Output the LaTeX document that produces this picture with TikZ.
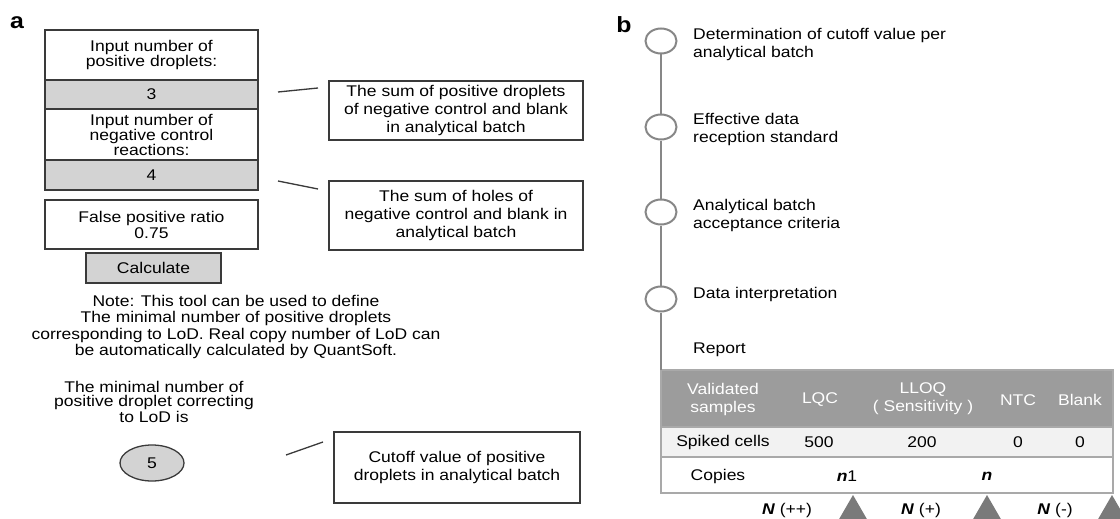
\documentclass[tikz,border=0pt]{standalone}
\usepackage{fontspec}
\setmainfont{Liberation Sans}[FakeStretch=1.13]
\usetikzlibrary{positioning, shapes.geometric}
\definecolor{boxgray}{HTML}{D3D3D3}
\definecolor{edgedark}{HTML}{3A3A3A}
\definecolor{linegray}{HTML}{878787}
\definecolor{headgray}{HTML}{9C9C9C}
\definecolor{rowgray}{HTML}{F2F2F2}
\definecolor{tablegray}{HTML}{A9A9A9}
\definecolor{trigray}{HTML}{7A7A7A}

\begin{document}
\begin{tikzpicture}[x=1pt, y=-1pt, font=\fontsize{15.5}{16}\selectfont,
  inbox/.style={draw=edgedark, line width=1.3pt, minimum width=213pt, inner sep=0pt, outer sep=0pt, align=center},
  valbox/.style={inbox, fill=boxgray},
  notebox/.style={draw=edgedark, line width=1.3pt, inner sep=0pt, align=center, font=\fontsize{15.5}{18}\selectfont},
  tick/.style={edgedark, line width=1.3pt},
  ring/.style={ellipse, draw=linegray, line width=2pt, fill=white, minimum width=31pt, minimum height=25pt, inner sep=0pt},
  ringline/.style={linegray, line width=2pt},
  steptext/.style={anchor=west, inner sep=0pt, align=left, font=\fontsize{15.5}{18}\selectfont},
  trow/.style={draw=tablegray, line width=2pt, minimum width=452pt, inner sep=0pt, outer sep=0pt},
  marker/.style={regular polygon, regular polygon sides=3, minimum size=32.4pt, inner sep=0pt, fill=trigray}]
\useasboundingbox (0,0) rectangle (1120,519);

% panel a
\node[font=\fontsize{22}{22}\selectfont\bfseries] (labA) at (17,23) {a};
\node[inbox, minimum height=50pt, font=\fontsize{15.5}{15.5}\selectfont] (inA) at (151.5,55) {Input number of\\positive droplets:};
\node[valbox, minimum height=29pt, below=0pt of inA] (val3) {3};
\node[inbox, minimum height=51pt, below=0pt of val3, font=\fontsize{15.5}{15}\selectfont] (inB) {Input number of\\negative control\\reactions:};
\node[valbox, minimum height=30pt, below=0pt of inB] (val4) {4};
\node[inbox, minimum height=49pt, below=10pt of val4, font=\fontsize{15.5}{16}\selectfont] (ratio) {False positive ratio\\0.75};
\node[valbox, minimum width=135pt, minimum height=30pt] (calc) at (153.5,268) {Calculate};
\node[align=center, inner sep=0pt, font=\fontsize{15.5}{16.5}\selectfont] (note) at (236,327) {Note: This tool can be used to define\\The minimal number of positive droplets\\corresponding to LoD. Real copy number of LoD can\\be automatically calculated by QuantSoft.};
\node[align=center, inner sep=0pt, font=\fontsize{15.5}{14}\selectfont] (minlod) at (154,402) {The minimal number of\\positive droplet correcting\\to LoD is};
\node[ellipse, draw=edgedark, line width=1.3pt, fill=boxgray, minimum width=64pt, minimum height=36pt, inner sep=0pt] (res) at (152,463) {5};

\node[notebox, minimum width=254pt, minimum height=59pt] (sumpos) at (456,110.5) {The sum of positive droplets\\of negative control and blank\\in analytical batch};
\node[notebox, minimum width=254pt, minimum height=69pt] (sumneg) at (456,215.5) {The sum of holes of\\negative control and blank in\\analytical batch};
\node[notebox, minimum width=246pt, minimum height=71pt] (cutoff) at (457,467.5) {Cutoff value of positive\\droplets in analytical batch};

\coordinate (t1a) at (278,92);  \coordinate (t1b) at (318,88);
\coordinate (t2a) at (278,181); \coordinate (t2b) at (318,189);
\coordinate (t3a) at (286,455); \coordinate (t3b) at (323,442);
\draw[tick] (t1a) -- (t1b);
\draw[tick] (t2a) -- (t2b);
\draw[tick] (t3a) -- (t3b);

% panel b
\node[font=\fontsize{22}{22}\selectfont\bfseries] (labB) at (624,25) {b};
\node[ring] (c1) at (661,41) {};
\node[ring] (c2) at (661,127) {};
\node[ring] (c3) at (661,212) {};
\node[ring] (c4) at (661,299) {};
\node[steptext] (s1) at (693,44) {Determination of cutoff value per\\analytical batch};
\node[steptext] (s2) at (693,129) {Effective data\\reception standard};
\node[steptext] (s3) at (693,215) {Analytical batch\\acceptance criteria};
\node[steptext] (s4) at (693,294) {Data interpretation};
\node[steptext] (s5) at (693,350) {Report};

% table
\node[trow, fill=headgray, minimum height=57pt] (hdr) at (887,398.5) {};
\node[trow, fill=rowgray, minimum height=30pt, below=0pt of hdr] (spk) {};
\node[trow, fill=white, minimum height=36pt, below=0pt of spk] (cop) {};
\draw[ringline] (c1) -- (c2);
\draw[ringline] (c2) -- (c3);
\draw[ringline] (c3) -- (c4);
\draw[ringline] (c4) -- (hdr.north west);

\begin{scope}[every node/.style={text=white, align=center, inner sep=0pt, font=\fontsize{15.5}{18}\selectfont}]
\node (hVal) at (723,399) {Validated\\samples};
\node (hLqc) at (820,400) {LQC};
\node (hLloq) at (923,399) {LLOQ\\( Sensitivity )};
\node (hNtc) at (1018,400) {NTC};
\node (hBlk) at (1080,400) {Blank};
\end{scope}
\node (rSpk) at (723,442) {Spiked cells};
\node (v500) at (819,442) {500};
\node (v200) at (922,442) {200};
\node (v0a) at (1018,442) {0};
\node (v0b) at (1080,442) {0};
\node (rCop) at (718,476) {Copies};
\node (vn1) at (847,476) {\textbf{\textit{n}}1};
\node (vn) at (987,476) {\textbf{\textit{n}}};

\node[marker] (m1) at (853,511.2) {};
\node[marker] (m2) at (987,511.2) {};
\node[marker] (m3) at (1112,511.2) {};
\node (nPP) at (787,510) {\textbf{\textit{N}} (++)};
\node (nP) at (921,510) {\textbf{\textit{N}} (+)};
\node (nM) at (1055,510) {\textbf{\textit{N}} (-)};
\end{tikzpicture}
\end{document}
